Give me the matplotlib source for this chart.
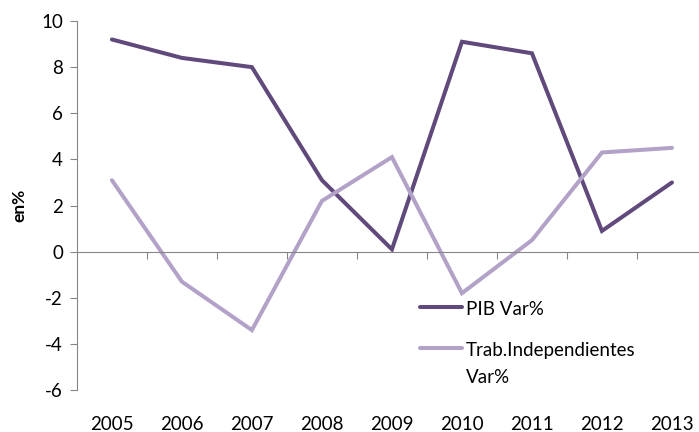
import matplotlib as mpl
import matplotlib.pyplot as plt
import matplotlib.transforms as mtransforms

mpl.rcParams['font.family'] = ['Lato', 'DejaVu Sans']

years = ["2005", "2006", "2007", "2008", "2009", "2010", "2011", "2012", "2013"]
pib = [9.2, 8.4, 8.0, 3.1, 0.1, 9.1, 8.6, 0.9, 3.0]
trab = [3.1, -1.3, -3.4, 2.2, 4.1, -1.8, 0.5, 4.3, 4.5]
yticks = [-6, -4, -2, 0, 2, 4, 6, 8, 10]

grey = '#868686'
fs = 13.5
fig = plt.figure(figsize=(6.99, 4.32), dpi=100)
ax = fig.add_axes([0.110, 0.097, 0.9014, 0.8544])
x = list(range(len(years)))
ax.plot(x, pib, color='#604A7B', lw=2.9, solid_capstyle='round', solid_joinstyle='miter',
        label='PIB Var%')
ax.plot(x, trab, color='#B3A2C7', lw=2.9, solid_capstyle='round', solid_joinstyle='miter',
        label='Trab.Independientes\nVar%')

ax.set_xlim(-0.5, len(years) - 0.5)
ax.set_ylim(-6, 10)
ax.set_yticks(yticks)
ax.set_yticklabels([str(v) for v in yticks])
ax.tick_params(axis='y', length=5, width=0.8, color=grey, labelsize=fs, pad=5)

ax.spines['top'].set_visible(False)
ax.spines['right'].set_visible(False)
ax.spines['left'].set_color(grey)
ax.spines['bottom'].set_color(grey)
ax.spines['bottom'].set_position(('data', 0))
ax.set_xticks([i + 0.5 for i in range(len(years) - 1)])
ax.set_xticklabels([])
ax.tick_params(axis='x', length=5, width=0.8, color=grey, direction='out')

trans = mtransforms.blended_transform_factory(ax.transData, ax.transAxes)
for i, yr in enumerate(years):
    ax.text(i, -0.07, yr, transform=trans, ha='center', va='top', fontsize=fs)

ax.set_ylabel('en%', fontsize=12.5, fontweight='bold', labelpad=10)

leg = ax.legend(loc='upper left', bbox_to_anchor=(0.533, 0.263), frameon=False, fontsize=fs,
                handlelength=2.25, handletextpad=0.2, labelspacing=1.3, borderaxespad=0)
for t in leg.get_texts():
    t.set_linespacing(1.75)
for col in leg._legend_handle_box.get_children():
    for item in col.get_children():
        item.align = 'top'

fig.savefig('out.png', dpi=100)
